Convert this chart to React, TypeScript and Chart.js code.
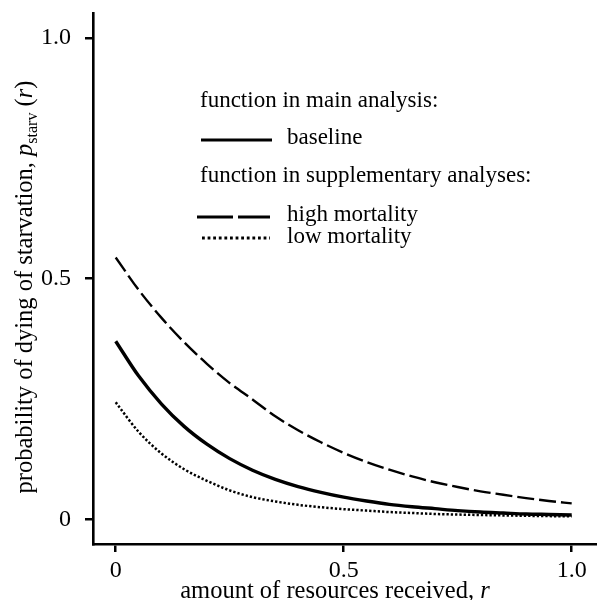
import React, { useEffect, useRef } from "react";
import { Chart, registerables } from "chart.js";

Chart.register(...registerables);

// ---- data ----
const R_VALUES = [0, 0.05, 0.1, 0.15, 0.2, 0.25, 0.3, 0.35, 0.4, 0.45, 0.5, 0.55, 0.6, 0.65, 0.7, 0.75, 0.8, 0.85, 0.9, 0.95, 1.0];
const BASELINE = [0.370, 0.298, 0.240, 0.193, 0.156, 0.126, 0.102, 0.083, 0.068, 0.056, 0.046, 0.038, 0.031, 0.026, 0.022, 0.018, 0.015, 0.013, 0.011, 0.010, 0.009];
const HIGH_MORTALITY = [0.544, 0.477, 0.419, 0.368, 0.323, 0.283, 0.249, 0.214, 0.185, 0.160, 0.138, 0.119, 0.103, 0.089, 0.077, 0.067, 0.058, 0.051, 0.044, 0.038, 0.033];
const LOW_MORTALITY = [0.243, 0.182, 0.137, 0.104, 0.080, 0.060, 0.046, 0.037, 0.030, 0.025, 0.021, 0.018, 0.015, 0.013, 0.011, 0.0098, 0.0088, 0.008, 0.0072, 0.0066, 0.006];

const X_TICKS = [0, 0.5, 1.0];
const X_TICK_LABELS = ["0", "0.5", "1.0"];
const Y_TICKS = [0, 0.5, 1.0];
const Y_TICK_LABELS = ["0", "0.5", "1.0"];

const LEGEND_HEADING_MAIN = "function in main analysis:";
const LEGEND_HEADING_SUPP = "function in supplementary analyses:";
const SERIES_LABELS = ["baseline", "high mortality", "low mortality"];
const X_TITLE = "amount of resources received, ";
const X_TITLE_VAR = "r";
const Y_TITLE = "probability of dying of starvation, ";

const FONT_FAMILY = "'Liberation Serif', 'Times New Roman', serif";
const FS = 23;
const FS_TICK = 24;
const FS_TITLE = 24.5;

type Run = { text: string; font: string; dy?: number };

function drawRuns(ctx: CanvasRenderingContext2D, runs: Run[], x: number, y: number, align: "left" | "center") {
  let total = 0;
  const widths = runs.map((r) => {
    ctx.font = r.font;
    const w = ctx.measureText(r.text).width;
    total += w;
    return w;
  });
  let cx = align === "center" ? x - total / 2 : x;
  ctx.textAlign = "left";
  runs.forEach((r, i) => {
    ctx.font = r.font;
    ctx.fillText(r.text, cx, y + (r.dy || 0));
    cx += widths[i];
  });
}

const textPlugin = {
  id: "customText",
  afterDraw(chart: any) {
    const ctx: CanvasRenderingContext2D = chart.ctx;
    const normal = `${FS}px ${FONT_FAMILY}`;
    const tNormal = `${FS_TITLE}px ${FONT_FAMILY}`;
    const tItalic = `italic ${FS_TITLE}px ${FONT_FAMILY}`;
    const tSmall = `${Math.round(FS_TITLE * 0.65)}px ${FONT_FAMILY}`;
    ctx.save();
    ctx.fillStyle = "#000";
    ctx.strokeStyle = "#000";
    ctx.textBaseline = "middle";

    // legend
    const lx0 = 200;
    const textX = 287;
    ctx.font = normal;
    ctx.textAlign = "left";
    ctx.fillText(LEGEND_HEADING_MAIN, lx0, 101);
    ctx.fillText(SERIES_LABELS[0], textX, 138);
    ctx.fillText(LEGEND_HEADING_SUPP, lx0, 176);
    ctx.fillText(SERIES_LABELS[1], textX, 215);
    ctx.fillText(SERIES_LABELS[2], textX, 237);

    ctx.lineCap = "butt";
    ctx.lineWidth = 3;
    ctx.setLineDash([]);
    ctx.beginPath();
    ctx.moveTo(201, 140);
    ctx.lineTo(272, 140);
    ctx.stroke();

    ctx.setLineDash([36, 5]);
    ctx.beginPath();
    ctx.moveTo(197, 217);
    ctx.lineTo(270, 217);
    ctx.stroke();

    ctx.lineWidth = 2.8;
    ctx.setLineDash([2.8, 2.8]);
    ctx.beginPath();
    ctx.moveTo(202, 238);
    ctx.lineTo(270, 238);
    ctx.stroke();
    ctx.setLineDash([]);

    // x title
    ctx.textBaseline = "alphabetic";
    drawRuns(
      ctx,
      [
        { text: X_TITLE, font: tNormal },
        { text: X_TITLE_VAR, font: tItalic },
      ],
      335,
      598,
      "center"
    );

    // y title (rotated)
    ctx.save();
    ctx.translate(32, 287);
    ctx.rotate(-Math.PI / 2);
    drawRuns(
      ctx,
      [
        { text: Y_TITLE, font: tNormal },
        { text: "p", font: tItalic },
        { text: "starv", font: tSmall, dy: 5 },
        { text: " (", font: tNormal },
        { text: "r", font: tItalic },
        { text: ")", font: tNormal },
      ],
      0,
      0,
      "center"
    );
    ctx.restore();

    ctx.restore();
  },
};

export default function App() {
  const canvasRef = useRef<HTMLCanvasElement | null>(null);

  useEffect(() => {
    if (!canvasRef.current) return;
    const toPoints = (ys: number[]) => R_VALUES.map((x, i) => ({ x, y: ys[i] }));
    const tickFont = { family: FONT_FAMILY, size: FS_TICK };
    const chart = new Chart(canvasRef.current, {
      type: "line",
      data: {
        datasets: [
          {
            label: SERIES_LABELS[0],
            data: toPoints(BASELINE),
            borderColor: "#000",
            borderWidth: 3.4,
            pointRadius: 0,
            cubicInterpolationMode: "monotone",
          },
          {
            label: SERIES_LABELS[1],
            data: toPoints(HIGH_MORTALITY),
            borderColor: "#000",
            borderWidth: 2.4,
            borderDash: [17, 5],
            pointRadius: 0,
            cubicInterpolationMode: "monotone",
          },
          {
            label: SERIES_LABELS[2],
            data: toPoints(LOW_MORTALITY),
            borderColor: "#000",
            borderWidth: 2.5,
            borderDash: [2.3, 2],
            pointRadius: 0,
            cubicInterpolationMode: "monotone",
          },
        ],
      },
      options: {
        responsive: false,
        animation: false,
        layout: { padding: { top: 13, left: 0, right: 1, bottom: 0 } },
        plugins: { legend: { display: false }, tooltip: { enabled: false } },
        scales: {
          x: {
            type: "linear",
            min: -0.0498,
            max: 1.0533,
            afterBuildTicks: (scale: any) => {
              scale.ticks = X_TICKS.map((v) => ({ value: v }));
            },
            afterFit: (scale: any) => {
              scale.height = 56;
              scale.paddingLeft = 0;
              scale.paddingRight = 0;
            },
            ticks: {
              color: "#000",
              font: tickFont,
              padding: 4,
              maxRotation: 0,
              autoSkip: false,
              callback: (v: any) => {
                const i = X_TICKS.indexOf(Number(v));
                return i >= 0 ? X_TICK_LABELS[i] : "";
              },
            },
            grid: { display: true, drawOnChartArea: false, drawTicks: true, tickLength: 8, color: "#000", lineWidth: 2.5 },
            border: { display: true, color: "#000", width: 2.6 },
          },
          y: {
            type: "linear",
            min: -0.0514,
            max: 1.052,
            afterBuildTicks: (scale: any) => {
              scale.ticks = Y_TICKS.map((v) => ({ value: v }));
            },
            afterFit: (scale: any) => {
              scale.width = 93;
              scale.paddingTop = 0;
              scale.paddingBottom = 0;
            },
            ticks: {
              color: "#000",
              font: tickFont,
              padding: 14,
              autoSkip: false,
              callback: (v: any) => {
                const i = Y_TICKS.indexOf(Number(v));
                return i >= 0 ? Y_TICK_LABELS[i] : "";
              },
            },
            grid: { display: true, drawOnChartArea: false, drawTicks: true, tickLength: 8, color: "#000", lineWidth: 2.5 },
            border: { display: true, color: "#000", width: 2.6 },
          },
        },
      },
      plugins: [textPlugin],
    } as any);
    return () => chart.destroy();
  }, []);

  return (
    <div style={{ position: "absolute", left: 0, top: 0, width: 597, height: 600, background: "#fff" }}>
      <canvas ref={canvasRef} width={597} height={600} style={{ display: "block" }} />
    </div>
  );
}
